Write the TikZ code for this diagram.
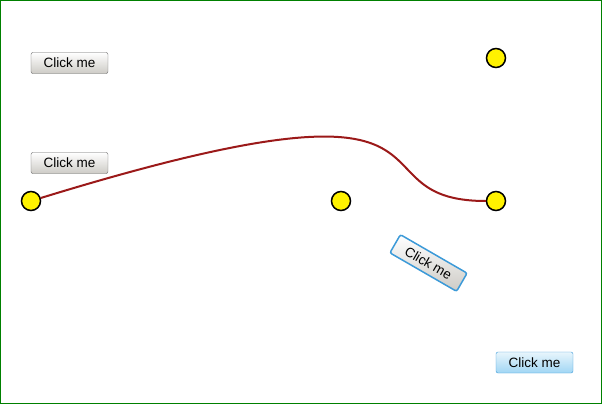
\documentclass[tikz,border=0pt]{standalone}
\usepackage{fontspec}
\setmainfont{Liberation Sans}
\definecolor{framegreen}{RGB}{0,128,0}
\definecolor{curvered}{RGB}{155,25,25}
\definecolor{btnborder}{RGB}{100,100,100}
\definecolor{btngray}{RGB}{205,203,198}
\definecolor{hoverborder}{RGB}{60,154,216}
\definecolor{hovertop}{RGB}{232,245,252}
\definecolor{hoverbottom}{RGB}{160,214,244}
\tikzset{
    button/.style={draw=btnborder, rounded corners=2pt, top color=white, bottom color=btngray,
        minimum width=77pt, minimum height=21pt, inner sep=0pt, font=\fontsize{13.5}{15}\selectfont},
    hoverbutton/.style={button, draw=hoverborder, top color=hovertop, bottom color=hoverbottom},
    handle/.style={circle, draw=black, line width=1.5pt, fill=yellow, minimum size=19pt, inner sep=0pt}
}
\begin{document}
\begin{tikzpicture}[x=1pt,y=-1pt]
    \useasboundingbox (0,0) rectangle (602,404);
    \draw[framegreen, line width=1pt] (0.5,0.5) rectangle (601.5,403.5);
    \node[button] (btna) at (69.5,63) {Click me};
    \node[button] (btnb) at (69.5,163) {Click me};
    \node[button, draw=hoverborder, line width=1.5pt, rotate=-30] (btnc) at (428.5,263) {Click me};
    \node[hoverbutton] (btnd) at (534.5,362.5) {Click me};
    \node[handle] (start) at (31,201) {};
    \node[handle] (ctrlb) at (341,201) {};
    \node[handle] (finish) at (496,201) {};
    \node[handle] (ctrla) at (496,58) {};
    \draw[curvered, line width=2pt] (start) .. controls (ctrla.center) and (ctrlb.center) .. (finish);
\end{tikzpicture}
\end{document}
